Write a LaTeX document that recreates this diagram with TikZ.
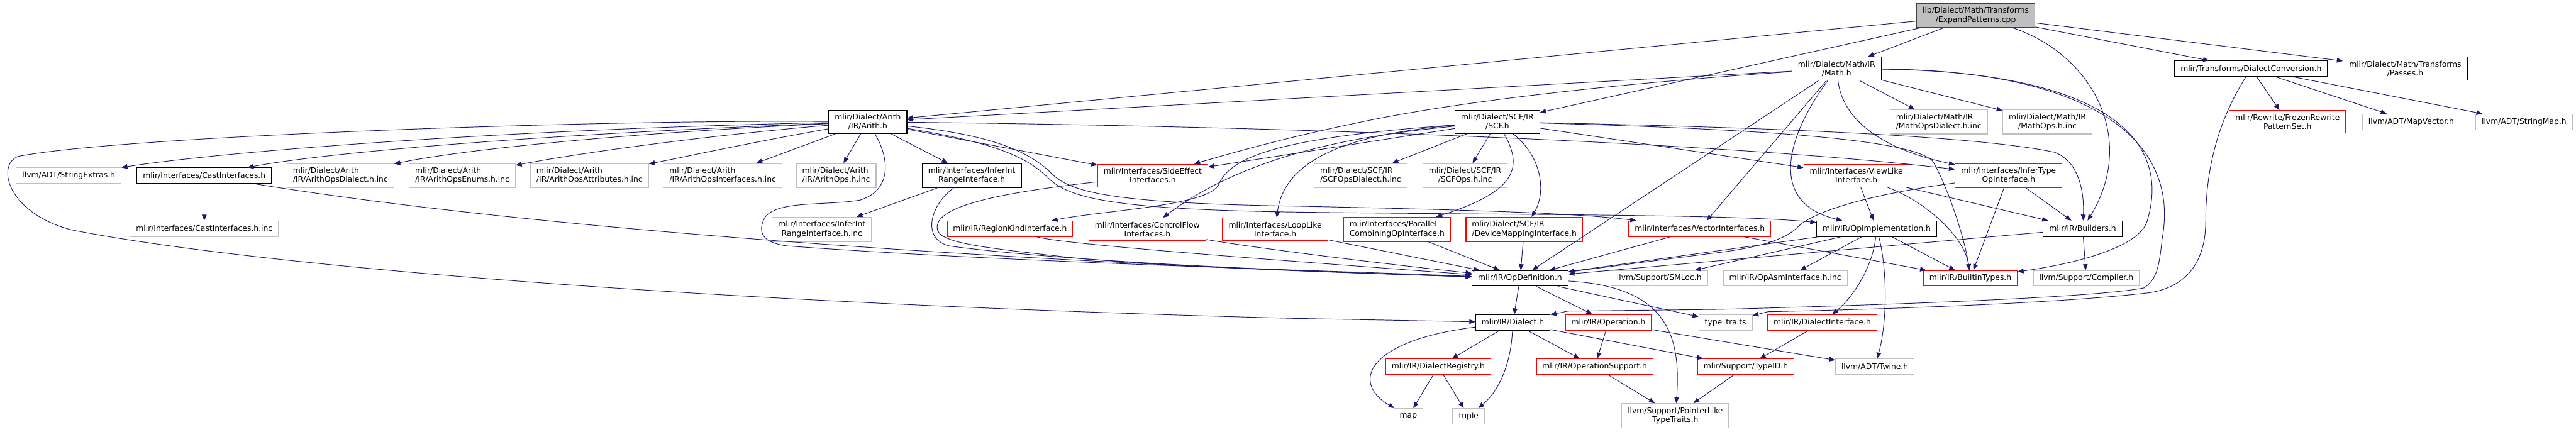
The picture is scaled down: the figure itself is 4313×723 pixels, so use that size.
\documentclass[tikz,border=0pt]{standalone}
\usepackage{fontspec}
\setmainfont{DejaVu Sans}
\usetikzlibrary{arrows.meta}
\definecolor{edgeblue}{RGB}{25,25,112}
\definecolor{incgray}{RGB}{191,191,191}
\definecolor{rootgray}{RGB}{191,191,191}
\definecolor{truncred}{RGB}{255,0,0}

\tikzset{
  file/.style={draw=black, line width=1.2pt, rectangle, inner xsep=10pt, inner ysep=6.5pt,
    minimum height=26pt, font=\fontsize{13}{15}\selectfont, align=center},
  sysfile/.style={file, draw=incgray},
  truncfile/.style={file, draw=truncred},
  rootfile/.style={file, fill=rootgray, draw=black!75},
  incl/.style={draw=edgeblue, line width=1pt, -{Triangle[length=10pt,width=8pt]}},
}

\begin{document}
\begin{tikzpicture}[x=1pt,y=-1pt]
  \useasboundingbox (0,0) rectangle (4313,723);

  % Files
  \node[rootfile] (expand) at (3308,26) {lib/Dialect/Math/Transforms\\/ExpandPatterns.cpp};

  \node[file] (math) at (3075,115) {mlir/Dialect/Math/IR\\/Math.h};
  \node[file] (dconv) at (3769,115) {mlir/Transforms/DialectConversion.h};
  \node[file] (passes) at (4027,115) {mlir/Dialect/Math/Transforms\\/Passes.h};

  \node[file] (arith) at (1453,204) {mlir/Dialect/Arith\\/IR/Arith.h};
  \node[file] (scf) at (2507,204) {mlir/Dialect/SCF/IR\\/SCF.h};
  \node[sysfile, align=left] (mathdialect) at (3246,204) {mlir/Dialect/Math/IR\\/MathOpsDialect.h.inc};
  \node[sysfile] (mathops) at (3428,204) {mlir/Dialect/Math/IR\\/MathOps.h.inc};
  \node[truncfile] (frozen) at (3830,204) {mlir/Rewrite/FrozenRewrite\\PatternSet.h};
  \node[sysfile] (mapvector) at (4037,204) {llvm/ADT/MapVector.h};
  \node[sysfile] (stringmap) at (4226,204) {llvm/ADT/StringMap.h};

  \node[sysfile] (strext) at (115,294) {llvm/ADT/StringExtras.h};
  \node[file] (cast) at (342,294) {mlir/Interfaces/CastInterfaces.h};
  \node[sysfile, align=left] (arithdialect) at (570,294) {mlir/Dialect/Arith\\/IR/ArithOpsDialect.h.inc};
  \node[sysfile, align=left] (arithenums) at (774,294) {mlir/Dialect/Arith\\/IR/ArithOpsEnums.h.inc};
  \node[sysfile, align=left] (arithattrs) at (987,294) {mlir/Dialect/Arith\\/IR/ArithOpsAttributes.h.inc};
  \node[sysfile, align=left] (arithifaces) at (1210,294) {mlir/Dialect/Arith\\/IR/ArithOpsInterfaces.h.inc};
  \node[sysfile, align=left] (arithops) at (1400,294) {mlir/Dialect/Arith\\/IR/ArithOps.h.inc};
  \node[file] (intrange) at (1627,294) {mlir/Interfaces/InferInt\\RangeInterface.h};
  \node[truncfile] (sideeffect) at (1930,294) {mlir/Interfaces/SideEffect\\Interfaces.h};
  \node[sysfile, align=left] (scfdialect) at (2278,294) {mlir/Dialect/SCF/IR\\/SCFOpsDialect.h.inc};
  \node[sysfile] (scfops) at (2453,294) {mlir/Dialect/SCF/IR\\/SCFOps.h.inc};
  \node[truncfile] (viewlike) at (3108,294) {mlir/Interfaces/ViewLike\\Interface.h};
  \node[truncfile] (infertype) at (3363,294) {mlir/Interfaces/InferType\\OpInterface.h};

  \node[sysfile] (castinc) at (342,383) {mlir/Interfaces/CastInterfaces.h.inc};
  \node[sysfile] (intrangeinc) at (1376,384) {mlir/Interfaces/InferInt\\RangeInterface.h.inc};
  \node[truncfile] (regionkind) at (1691,383) {mlir/IR/RegionKindInterface.h};
  \node[truncfile] (controlflow) at (1921,384) {mlir/Interfaces/ControlFlow\\Interfaces.h};
  \node[truncfile] (looplike) at (2135,384) {mlir/Interfaces/LoopLike\\Interface.h};
  \node[truncfile, align=left] (parallel) at (2339,384) {mlir/Interfaces/Parallel\\CombiningOpInterface.h};
  \node[truncfile, align=left] (devmap) at (2552,384) {mlir/Dialect/SCF/IR\\/DeviceMappingInterface.h};
  \node[truncfile] (vector) at (2846,383) {mlir/Interfaces/VectorInterfaces.h};
  \node[file] (opimpl) at (3142,383) {mlir/IR/OpImplementation.h};
  \node[file] (builders) at (3487,383) {mlir/IR/Builders.h};

  \node[file] (opdef) at (2545,466) {mlir/IR/OpDefinition.h};
  \node[sysfile] (smloc) at (2778,466) {llvm/Support/SMLoc.h};
  \node[sysfile] (opasm) at (2989,466) {mlir/IR/OpAsmInterface.h.inc};
  \node[truncfile] (builtintypes) at (3299,466) {mlir/IR/BuiltinTypes.h};
  \node[sysfile] (compiler) at (3493,466) {llvm/Support/Compiler.h};

  \node[file] (dialect) at (2533,540) {mlir/IR/Dialect.h};
  \node[truncfile] (operation) at (2693,540) {mlir/IR/Operation.h};
  \node[sysfile] (typetraits) at (2889,540) {type\_traits};
  \node[truncfile] (dialectiface) at (3051,540) {mlir/IR/DialectInterface.h};

  \node[truncfile] (registry) at (2408,614) {mlir/IR/DialectRegistry.h};
  \node[truncfile] (opsupport) at (2670,614) {mlir/IR/OperationSupport.h};
  \node[truncfile] (typeid) at (2923,614) {mlir/Support/TypeID.h};
  \node[sysfile] (twine) at (3139,614) {llvm/ADT/Twine.h};

  \node[sysfile] (map) at (2358,697) {map};
  \node[sysfile] (tuple) at (2459,697) {tuple};
  \node[sysfile] (ptrlike) at (2805,696) {llvm/Support/PointerLike\\TypeTraits.h};

  % ExpandPatterns.cpp
  \draw[incl] (expand) -- (arith);
  \draw[incl] (expand) -- (scf);
  \draw[incl] (expand) -- (math);
  \draw[incl] (expand) .. controls (3500,90) and (3580,230) .. (builders);
  \draw[incl] (expand) -- (dconv);
  \draw[incl] (expand) -- (passes);

  % Math.h
  \draw[incl] (math) -- (arith);
  \draw[incl] (math) .. controls (2700,140) and (2450,170) .. (2300,200) .. controls (2150,230) and (2050,260) .. (sideeffect);
  \draw[incl] (math) -- (mathdialect);
  \draw[incl] (math) -- (mathops);
  \draw[incl] (math) .. controls (3085,200) and (3150,250) .. (infertype);
  \draw[incl] (math) -- (vector);
  \draw[incl] (math) -- (opdef);
  \draw[incl] (math) .. controls (2990,230) and (2960,340) .. (opimpl);
  \draw[incl] (math) .. controls (3500,120) and (3640,220) .. (3595,370) .. controls (3580,420) and (3450,445) .. (builtintypes);
  \draw[incl] (math) .. controls (3510,118) and (3650,240) .. (3620,400) .. controls (3615,450) and (3610,468) .. (3590,482) .. controls (3500,500) and (3100,512) .. (2880,518) -- (2625,521) -- (dialect);

  % Arith.h
  \draw[incl] (arith) .. controls (900,215) and (400,250) .. (strext);
  \draw[incl] (arith) .. controls (900,225) and (550,255) .. (cast);
  \draw[incl] (arith) .. controls (1000,225) and (750,255) .. (arithdialect);
  \draw[incl] (arith) .. controls (1150,230) and (950,260) .. (arithenums);
  \draw[incl] (arith) .. controls (1250,240) and (1150,262) .. (arithattrs);
  \draw[incl] (arith) -- (arithifaces);
  \draw[incl] (arith) -- (arithops);
  \draw[incl] (arith) -- (intrange);
  \draw[incl] (arith) -- (sideeffect);
  \draw[incl] (arith) .. controls (2200,212) and (2900,240) .. (infertype);
  \draw[incl] (arith) .. controls (1650,225) and (1720,250) .. (1760,290) .. controls (1790,320) and (1850,340) .. (2160,345) .. controls (2500,352) and (2650,358) .. (vector);
  \draw[incl] (arith) .. controls (1640,235) and (1710,255) .. (1752,295) .. controls (1785,330) and (1850,350) .. (2160,355) .. controls (2500,360) and (2900,358) .. (opimpl);
  \draw[incl] (arith) .. controls (1492,270) and (1490,320) .. (1440,335) .. controls (1380,345) and (1300,335) .. (1280,365) .. controls (1265,395) and (1285,408) .. (1320,412) .. controls (1700,440) and (2200,452) .. (opdef);
  \draw[incl] (arith) .. controls (1000,200) and (200,228) .. (30,262) .. controls (-8,278) and (15,358) .. (120,385) .. controls (400,440) and (1100,505) .. (2160,533) -- (dialect);

  % SCF.h
  \draw[incl] (scf) -- (scfdialect);
  \draw[incl] (scf) -- (scfops);
  \draw[incl] (scf) .. controls (2550,280) and (2540,320) .. (parallel);
  \draw[incl] (scf) .. controls (2580,260) and (2590,320) .. (devmap);
  \draw[incl] (scf) -- (sideeffect);
  \draw[incl] (scf) .. controls (2150,230) and (2060,260) .. (2040,310) .. controls (2020,345) and (1850,352) .. (regionkind);
  \draw[incl] (scf) .. controls (2300,225) and (2100,250) .. (controlflow);
  \draw[incl] (scf) .. controls (2250,225) and (2150,270) .. (looplike);
  \draw[incl] (scf) -- (viewlike);
  \draw[incl] (scf) .. controls (2900,212) and (3300,225) .. (3440,255) .. controls (3480,270) and (3490,320) .. (builders);
  \draw[incl] (scf) .. controls (2900,215) and (3200,230) .. (3236,270) .. controls (3260,310) and (3290,400) .. (builtintypes);

  % Interfaces
  \draw[incl] (cast) -- (castinc);
  \draw[incl] (cast) .. controls (900,385) and (1700,440) .. (opdef);
  \draw[incl] (intrange) -- (intrangeinc);
  \draw[incl] (intrange) .. controls (1560,340) and (1540,400) .. (1590,412) .. controls (1800,440) and (2200,455) .. (opdef);
  \draw[incl] (sideeffect) .. controls (1700,320) and (1580,340) .. (1570,375) .. controls (1560,405) and (1620,412) .. (1800,432) .. controls (2000,450) and (2300,458) .. (opdef);
  \draw[incl] (regionkind) .. controls (1780,410) and (2200,440) .. (opdef);
  \draw[incl] (controlflow) .. controls (2100,415) and (2300,440) .. (opdef);
  \draw[incl] (looplike) -- (opdef);
  \draw[incl] (parallel) -- (opdef);
  \draw[incl] (devmap) -- (opdef);
  \draw[incl] (vector) -- (opdef);
  \draw[incl] (vector) -- (builtintypes);
  \draw[incl] (viewlike) -- (opimpl);
  \draw[incl] (viewlike) .. controls (3230,340) and (3290,400) .. (builtintypes);
  \draw[incl] (viewlike) -- (builders);
  \draw[incl] (infertype) .. controls (3100,330) and (3030,360) .. (3010,380) .. controls (2990,400) and (2950,415) .. (2860,425) -- (opdef);
  \draw[incl] (infertype) -- (builtintypes);
  \draw[incl] (infertype) -- (builders);

  % IR
  \draw[incl] (opimpl) -- (opdef);
  \draw[incl] (opimpl) -- (smloc);
  \draw[incl] (opimpl) -- (opasm);
  \draw[incl] (opimpl) -- (builtintypes);
  \draw[incl] (opimpl) .. controls (3135,450) and (3100,500) .. (dialectiface);
  \draw[incl] (opimpl) .. controls (3160,450) and (3160,540) .. (twine);
  \draw[incl] (builders) -- (opdef);
  \draw[incl] (builders) -- (compiler);
  \draw[incl] (opdef) -- (dialect);
  \draw[incl] (opdef) -- (operation);
  \draw[incl] (opdef) -- (typetraits);
  \draw[incl] (opdef) .. controls (2790,480) and (2815,560) .. (ptrlike);
  \draw[incl] (dialect) .. controls (2290,570) and (2260,640) .. (map);
  \draw[incl] (dialect) -- (registry);
  \draw[incl] (dialect) .. controls (2530,600) and (2515,650) .. (tuple);
  \draw[incl] (dialect) -- (opsupport);
  \draw[incl] (dialect) -- (typeid);
  \draw[incl] (operation) -- (opsupport);
  \draw[incl] (operation) -- (twine);
  \draw[incl] (registry) -- (map);
  \draw[incl] (registry) -- (tuple);
  \draw[incl] (opsupport) -- (ptrlike);
  \draw[incl] (typeid) -- (ptrlike);
  \draw[incl] (dialectiface) -- (typeid);

  % DialectConversion.h
  \draw[incl] (dconv) -- (frozen);
  \draw[incl] (dconv) -- (mapvector);
  \draw[incl] (dconv) -- (stringmap);
  \draw[incl] (dconv) .. controls (3715,200) and (3693,280) .. (3693,370) .. controls (3693,440) and (3660,480) .. (3600,490) .. controls (3450,508) and (3150,518) .. (2960,522) -- (typetraits);
\end{tikzpicture}
\end{document}
